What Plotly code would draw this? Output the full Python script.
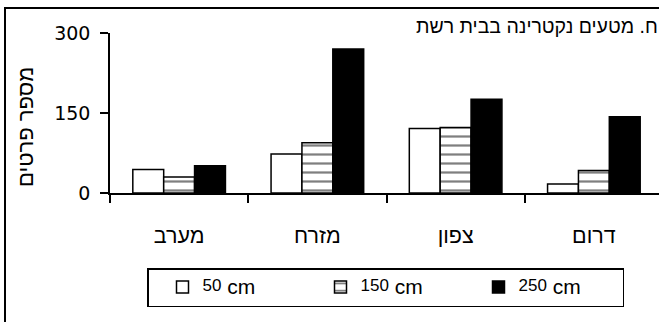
import plotly.graph_objects as go

# Sampling locations (left to right on the axis)
locations = ["מערב", "מזרח", "צפון", "דרום"]

# Number of individuals caught at each trap height
count_50cm = [44, 73, 121, 17]
count_150cm = [30, 94, 123, 42]
count_250cm = [51, 270, 176, 143]

heights = ["50", "150", "250"]
legend_names = [
    f"<span style='baseline-shift:3px'>{h}</span>"
    f"<span style='font-size:21px'> cm</span>"
    for h in heights
]

title_text = "ח. מטעים נקטרינה בבית רשת"
y_title = "מספר פרטים"
y_ticks = [0, 150, 300]

HEB = "Liberation Sans, DejaVu Sans, sans-serif"
NUM = "DejaVu Sans, sans-serif"

W, H = 659, 322
ML, MR, MT, MB = 110, 0, 33, 129
PW, PH = W - ML - MR, H - MT - MB


def px_x(p):
    return (p - ML) / PW


def px_y(q):
    return (H - MB - q) / PH


fig = go.Figure()
fig.add_bar(
    x=locations, y=count_50cm, name=legend_names[0],
    marker=dict(color="white", line=dict(color="black", width=1.5)),
)
fig.add_bar(
    x=locations, y=count_150cm, name=legend_names[1],
    marker=dict(
        color="white",
        line=dict(color="black", width=1.5),
        pattern=dict(shape="-", fgcolor="black", bgcolor="white", size=9, solidity=0.25),
    ),
)
fig.add_bar(
    x=locations, y=count_250cm, name=legend_names[2],
    marker=dict(color="black", line=dict(color="black", width=1.5)),
)

fig.update_layout(
    width=W, height=H,
    margin=dict(l=ML, r=MR, t=MT, b=MB, pad=0),
    paper_bgcolor="white", plot_bgcolor="white",
    barmode="group", bargap=0.33, bargroupgap=0,
    showlegend=True,
    legend=dict(
        orientation="h",
        x=px_x(147), xanchor="left",
        y=px_y(268), yanchor="top",
        bordercolor="black", borderwidth=1.5,
        font=dict(family=HEB, size=17, color="black"),
        entrywidth=99, entrywidthmode="pixels",
        indentation=14,
        traceorder="normal",
    ),
    font=dict(family=HEB, color="black"),
)

fig.update_xaxes(
    range=[-0.5, -0.5 + PW / 138.25],
    showline=True, linecolor="black", linewidth=1.5,
    ticks="outside", tickson="boundaries", ticklen=8, tickwidth=1.5, tickcolor="black",
    tickfont=dict(family=HEB, size=21.5, color="black"),
    ticklabelstandoff=22,
    showgrid=False, zeroline=False,
)
fig.update_yaxes(
    range=[0, 300],
    tickvals=y_ticks,
    showline=True, linecolor="black", linewidth=1.5,
    ticks="outside", ticklen=8, tickwidth=1.5, tickcolor="black",
    tickfont=dict(family=NUM, size=19, color="black"),
    ticklabelstandoff=6,
    showgrid=False, zeroline=False,
)

# Outer chart frame
fig.add_shape(
    type="rect", xref="paper", yref="paper",
    x0=px_x(5), x1=px_x(700), y0=px_y(400), y1=px_y(8),
    line=dict(color="black", width=2), fillcolor="rgba(0,0,0,0)", layer="above",
)

fig.add_annotation(
    text=title_text, xref="paper", yref="paper",
    x=px_x(660), y=px_y(26), xanchor="right", yanchor="middle",
    showarrow=False, font=dict(family=HEB, size=19.5, color="black"),
)
fig.add_annotation(
    text=y_title, xref="paper", yref="paper",
    x=px_x(25), y=px_y(127), xanchor="center", yanchor="middle",
    textangle=-90, showarrow=False, font=dict(family=HEB, size=22, color="black"),
)

fig.write_html("out.html")
